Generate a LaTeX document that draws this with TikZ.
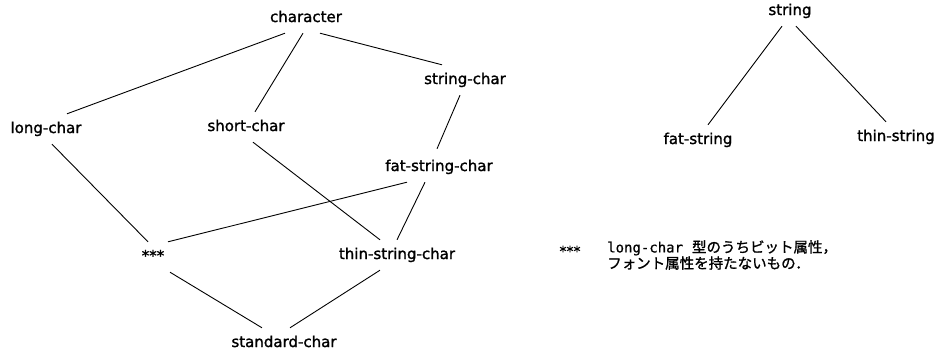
\documentclass[tikz,border=0pt]{standalone}
\usepackage{fontspec}
\newfontfamily\lblfont[FakeBold=1.4]{DejaVu Sans}
\newfontfamily\monofont[FakeBold=0.8]{DejaVu Sans Mono}
\newfontfamily\jpfont[FakeBold=1.2]{Noto Sans CJK JP}
\begin{document}
\begin{tikzpicture}[x=1pt,y=-1pt,
  typenode/.style={font=\lblfont\fontsize{15}{18}\selectfont, inner xsep=2pt, inner ysep=8pt,
                   text height=11pt, text depth=3pt},
  link/.style={draw=black, line width=0.9pt}]
  \useasboundingbox[fill=white] (0,0) rectangle (938,351);

  % character type lattice
  \node[typenode] (character) at (306,18)  {character};
  \node[typenode] (longchar)  at (46,129)  {long-char};
  \node[typenode] (shortchar) at (246,127) {short-char};
  \node[typenode] (strchar)   at (465,80)  {string-char};
  \node[typenode] (fatchar)   at (439,167) {fat-string-char};
  \node[typenode] (stars)     at (153,257) {***};
  \node[typenode] (thinchar)  at (397,255) {thin-string-char};
  \node[typenode] (stdchar)   at (284,343) {standard-char};

  \draw[link] ([xshift=-21pt]character.south) -- ([xshift=21pt]longchar.north);
  \draw[link] ([xshift=-3pt]character.south)  -- ([xshift=9pt]shortchar.north);
  \draw[link] ([xshift=14pt]character.south)  -- ([xshift=-23pt]strchar.north);
  \draw[link] ([xshift=-5pt]strchar.south)    -- ([xshift=-2pt,yshift=3pt]fatchar.north);
  \draw[link] ([xshift=6pt]longchar.south)    -- ([xshift=-5pt]stars.north);
  \draw[link] ([xshift=7pt]shortchar.south)   -- ([xshift=-17pt]thinchar.north);
  \draw[link] ([xshift=-32pt]fatchar.south)   -- ([xshift=15pt]stars.north);
  \draw[link] ([xshift=-14pt]fatchar.south)   -- (thinchar.north);
  \draw[link] ([xshift=17pt]stars.south)      -- ([xshift=-22pt]stdchar.north);
  \draw[link] ([xshift=-17pt]thinchar.south)  -- ([xshift=6pt]stdchar.north);

  % string types
  \node[typenode] (string)    at (790,11)  {string};
  \node[typenode] (fatstr)    at (698,140) {fat-string};
  \node[typenode] (thinstr)   at (896,137) {thin-string};

  \draw[link] ([xshift=-8pt]string.south) -- ([xshift=10pt]fatstr.north);
  \draw[link] ([xshift=6pt]string.south)  -- ([xshift=-10pt]thinstr.north);

  % footnote for ***
  \node[font=\lblfont\fontsize{14}{14}\selectfont, inner sep=0pt] (notemark) at (570,251) {***};
  \node[anchor=west, align=left, inner sep=0pt,
        font=\jpfont\fontsize{14.5}{14}\selectfont] (notetext) at (607,255)
    {{\monofont\fontsize{14}{14}\selectfont long-char}\hspace{9pt}型のうちビット属性，\\
     フォント属性を持たないもの．};
\end{tikzpicture}
\end{document}
